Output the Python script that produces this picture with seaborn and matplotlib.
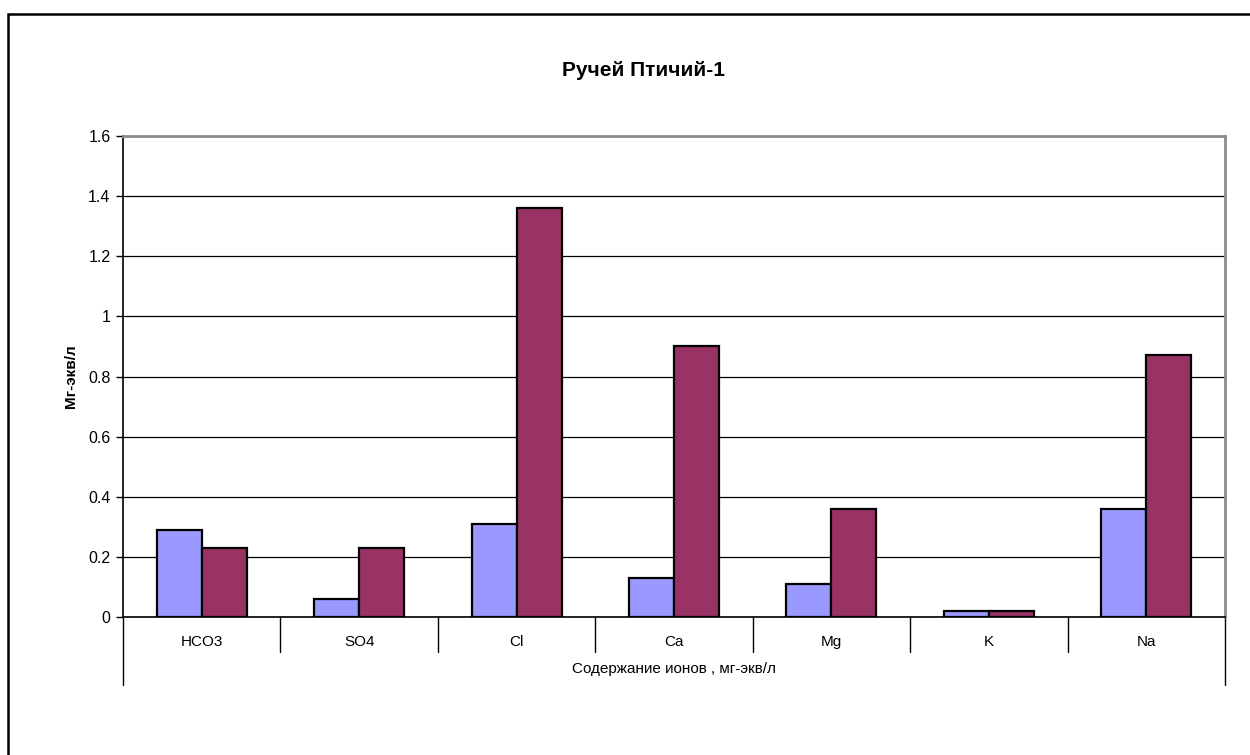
import numpy as np
import pandas as pd
import matplotlib
matplotlib.use("Agg")
import matplotlib.pyplot as plt
import matplotlib.patches as mpatches
import matplotlib.transforms as mtransforms
import seaborn as sns

# Ion concentrations, mg-eq/L
ions = ["HCO3", "SO4", "Cl", "Ca", "Mg", "K", "Na"]
series_a = [0.29, 0.06, 0.31, 0.13, 0.11, 0.02, 0.36]
series_b = [0.23, 0.23, 1.36, 0.90, 0.36, 0.02, 0.87]
series_names = ["Ряд1", "Ряд2"]
colors = ["#9999FF", "#993366"]
y_ticks = [0, 0.2, 0.4, 0.6, 0.8, 1.0, 1.2, 1.4, 1.6]

title = "Ручей Птичий-1"
y_title = "Мг-экв/л"
x_title = "Содержание ионов , мг-экв/л"

df = pd.DataFrame({
    "ion": ions * 2,
    "value": series_a + series_b,
    "series": [series_names[0]] * len(ions) + [series_names[1]] * len(ions),
})

sns.set_theme(style="white")
plt.rcParams["font.family"] = ["Liberation Sans", "DejaVu Sans"]
plt.rcParams["text.color"] = "black"
plt.rcParams["axes.labelcolor"] = "black"
plt.rcParams["xtick.color"] = "black"
plt.rcParams["ytick.color"] = "black"

W, H = 1250, 755
fig = plt.figure(figsize=(W / 100, H / 100), dpi=100)
fig.patch.set_facecolor("white")

left, right, top, bottom = 123, 1225, 136, 617
ax = fig.add_axes([left / W, 1 - bottom / H, (right - left) / W, (bottom - top) / H])

sns.barplot(data=df, x="ion", y="value", hue="series", order=ions,
            hue_order=series_names, palette=colors, width=0.572, gap=0,
            edgecolor="black", linewidth=1.6, saturation=1, legend=False,
            errorbar=None, ax=ax)

ax.set_xlim(-0.5, len(ions) - 0.5)
ax.set_ylim(0, 1.6)
ax.set_yticks(y_ticks)
ax.set_yticklabels([f"{v:g}" for v in y_ticks], fontsize=11.5)
ax.yaxis.grid(True, color="black", linewidth=0.9)
ax.set_axisbelow(True)

ax.tick_params(axis="y", which="both", left=True, length=5, width=1, color="black", pad=4)
ax.tick_params(axis="x", which="both", bottom=False, length=0, pad=13, labelsize=11)

for side in ["left", "bottom"]:
    ax.spines[side].set_color("black")
    ax.spines[side].set_linewidth(1.2)
for side in ["top", "right"]:
    ax.spines[side].set_color("#8c8c8c")
    ax.spines[side].set_linewidth(2.0)

# category separators below the axis (two-level category axis)
trans = mtransforms.blended_transform_factory(ax.transData, ax.transAxes)
inner_low = -(652 - bottom) / (bottom - top)
outer_low = -(685 - bottom) / (bottom - top)
bounds = np.arange(len(ions) + 1) - 0.5
for i, b in enumerate(bounds):
    low = outer_low if i in (0, len(bounds) - 1) else inner_low
    ax.plot([b, b], [0, low], color="black", linewidth=1.0,
            transform=trans, clip_on=False)

ax.set_xlabel(x_title, fontsize=11)
ax.xaxis.label.set_va("center")
ax.xaxis.set_label_coords(0.5, -(669 - bottom) / (bottom - top))

ax.set_ylabel(y_title, fontsize=11, fontweight="bold")
ax.yaxis.label.set_va("center")
ax.yaxis.set_label_coords((71 - left) / (right - left), 0.5)

fig.text(643 / W, 1 - 70 / H, title, ha="center", va="center",
         fontsize=15, fontweight="bold")

# chart frame
frame = mpatches.Rectangle((7.5 / W, -0.2), 1.2, 1 - 14.5 / H + 0.2,
                           transform=fig.transFigure, fill=False,
                           edgecolor="black", linewidth=1.8, clip_on=False)
fig.patches.append(frame)

fig.savefig("out.png", dpi=100, facecolor="white")
